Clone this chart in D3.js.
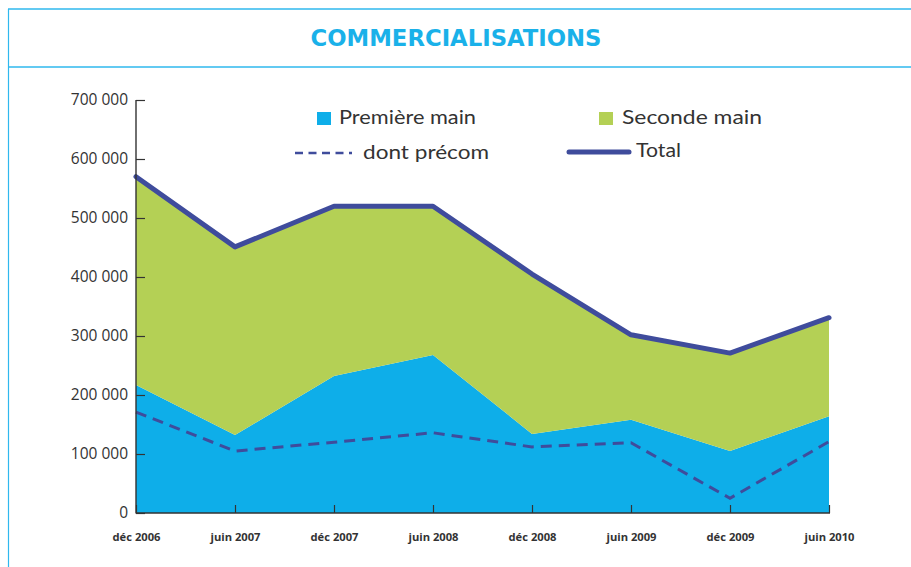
<!DOCTYPE html>
<html>
<head>
<meta charset="utf-8">
<script src="https://cdn.jsdelivr.net/npm/d3@7"></script>
<style>
  body { margin: 0; background: #fff; }
  svg { display: block; }
</style>
</head>
<body>
<div id="chart"></div>
<script>
// Chart data
var periods = ["déc 2006", "juin 2007", "déc 2007", "juin 2008", "déc 2008", "juin 2009", "déc 2009", "juin 2010"];
var premiereMain = [217000, 132000, 232000, 268000, 134000, 158000, 105000, 164000];
var secondeMain = [353000, 319000, 288000, 252000, 271000, 144000, 166000, 167000];
var dontPrecom = [171000, 105000, 120000, 136000, 112000, 119000, 25000, 121000];
var yTicks = [0, 100000, 200000, 300000, 400000, 500000, 600000, 700000];

var svgWidth = 911;
var svgHeight = 567;

var blue = "#0eaee9";
var green = "#b4d055";
var navy = "#3f4c9c";
var frame = "#2fb8ee";

var svg = d3.select("#chart")
  .append("svg")
  .attr("width", svgWidth)
  .attr("height", svgHeight);

// Frame and header
svg.append("line").attr("x1", 8).attr("x2", svgWidth).attr("y1", 9).attr("y2", 9)
  .attr("stroke", frame).attr("stroke-width", 1.6);
svg.append("line").attr("x1", 8).attr("x2", svgWidth).attr("y1", 67).attr("y2", 67)
  .attr("stroke", frame).attr("stroke-width", 1.6);
svg.append("line").attr("x1", 8.5).attr("x2", 8.5).attr("y1", 9).attr("y2", svgHeight)
  .attr("stroke", frame).attr("stroke-width", 1.2);

svg.append("text")
  .attr("x", 456)
  .attr("y", 46)
  .attr("text-anchor", "middle")
  .attr("font-family", "'DejaVu Sans Condensed', 'DejaVu Sans', sans-serif")
  .attr("font-weight", "bold")
  .attr("font-size", 23)
  .attr("textLength", 291)
  .attr("lengthAdjust", "spacingAndGlyphs")
  .attr("fill", "#1ab1e9")
  .text("COMMERCIALISATIONS");

// Scales
var xScale = d3.scalePoint().domain(periods).range([136, 829]);
var yScale = d3.scaleLinear().domain([0, 700000]).range([513, 100]);

// Stack the two series
var table = periods.map(function(p, i) {
  return { period: p, premiere: premiereMain[i], seconde: secondeMain[i], precom: dontPrecom[i] };
});
var stacked = d3.stack().keys(["premiere", "seconde"])(table);

var area = d3.area()
  .x(function(d) { return xScale(d.data.period); })
  .y0(function(d) { return yScale(d[0]); })
  .y1(function(d) { return yScale(d[1]); });

var chartGroup = svg.append("g");

chartGroup.selectAll("path.layer")
  .data(stacked)
  .enter()
  .append("path")
  .attr("class", "layer")
  .attr("d", area)
  .attr("fill", function(d, i) { return i === 0 ? blue : green; });

// dont précom dashed line
var precomLine = d3.line()
  .x(function(d) { return xScale(d.period); })
  .y(function(d) { return yScale(d.precom); });

chartGroup.append("path")
  .datum(table)
  .attr("d", precomLine)
  .attr("fill", "none")
  .attr("stroke", navy)
  .attr("stroke-width", 3)
  .attr("stroke-dasharray", "11,7");

// Total line (top of the stack)
var totalLine = d3.line()
  .x(function(d) { return xScale(d.data.period); })
  .y(function(d) { return yScale(d[1]); });

chartGroup.append("path")
  .datum(stacked[1])
  .attr("d", totalLine)
  .attr("fill", "none")
  .attr("stroke", navy)
  .attr("stroke-width", 5)
  .attr("stroke-linejoin", "round")
  .attr("stroke-linecap", "round");

// Axes
var leftAxis = d3.axisLeft(yScale)
  .tickValues(yTicks)
  .tickSize(-9)
  .tickPadding(8)
  .tickFormat(function(d) { return d3.format(",")(d).replace(/,/g, " "); });

var bottomAxis = d3.axisBottom(xScale)
  .tickSize(-8)
  .tickPadding(20);

var yAxisG = chartGroup.append("g")
  .attr("transform", "translate(136,0)")
  .call(leftAxis);
yAxisG.select(".domain").attr("stroke", "#333").attr("stroke-width", 1.4).attr("d", "M0,100V513.5");
yAxisG.selectAll(".tick line").attr("stroke", "#333").attr("stroke-width", 1.2);
yAxisG.selectAll(".tick text")
  .attr("font-family", "'Open Sans', sans-serif")
  .attr("font-size", 15.5)
  .attr("fill", "#333");

var xAxisG = chartGroup.append("g")
  .attr("transform", "translate(0,513)")
  .call(bottomAxis);
xAxisG.select(".domain").attr("stroke", "#333").attr("stroke-width", 1.6).attr("d", "M136,0H830");
xAxisG.selectAll(".tick line").attr("stroke", "#333").attr("stroke-width", 1.2);
xAxisG.selectAll(".tick text")
  .attr("font-family", "'Open Sans', sans-serif")
  .attr("font-weight", "bold")
  .attr("font-size", 11.2)
  .attr("fill", "#333");

// Legend
var legendFont = "'Lato', 'Open Sans', sans-serif";
var legend = svg.append("g");

legend.append("rect").attr("x", 317).attr("y", 112).attr("width", 14).attr("height", 13).attr("fill", blue);
legend.append("text").attr("x", 339).attr("y", 124).attr("textLength", 137).text("Première main");

legend.append("rect").attr("x", 599).attr("y", 112).attr("width", 14).attr("height", 13).attr("fill", green);
legend.append("text").attr("x", 622).attr("y", 124).attr("textLength", 140).text("Seconde main");

legend.append("line").attr("x1", 295).attr("x2", 352).attr("y1", 153).attr("y2", 153)
  .attr("stroke", navy).attr("stroke-width", 2.5).attr("stroke-dasharray", "8,5.5");
legend.append("text").attr("x", 363).attr("y", 159).attr("textLength", 126).text("dont précom");

legend.append("line").attr("x1", 569).attr("x2", 629).attr("y1", 152).attr("y2", 152)
  .attr("stroke", navy).attr("stroke-width", 5).attr("stroke-linecap", "round");
legend.append("text").attr("x", 636).attr("y", 157).attr("textLength", 45).text("Total");

legend.selectAll("text")
  .attr("font-family", legendFont)
  .attr("font-size", 19.5)
  .attr("lengthAdjust", "spacingAndGlyphs")
  .attr("fill", "#333");
</script>
</body>
</html>
